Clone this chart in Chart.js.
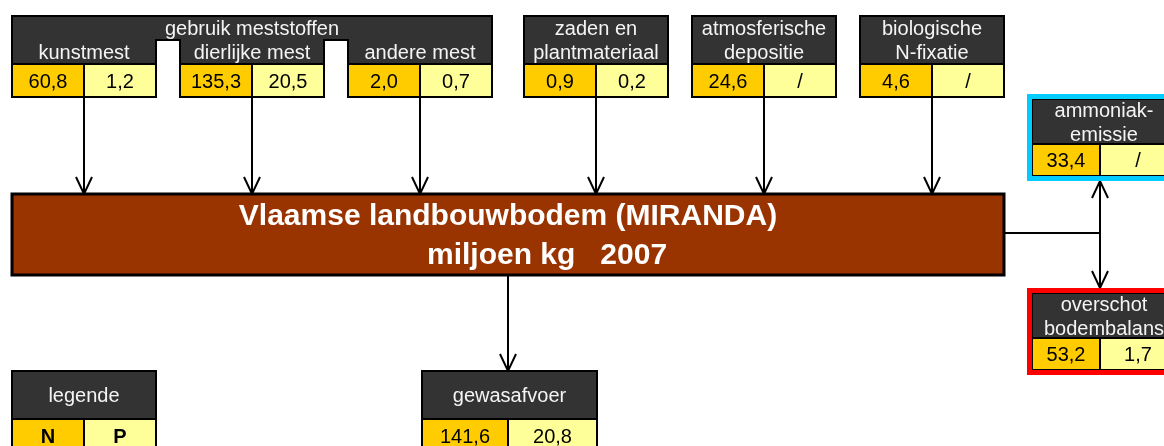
<!DOCTYPE html>
<html>
<head>
<meta charset="utf-8">
<title>Bodembalans Vlaamse landbouw 2007</title>
<script src="https://cdn.jsdelivr.net/npm/chart.js@4.4.1/dist/chart.umd.min.js"></script>
<style>
  html, body { margin: 0; padding: 0; background: #fff; }
  canvas { display: block; }
</style>
</head>
<body>
<canvas id="balans" width="1164" height="446"></canvas>
<script>
  // N and P flows, miljoen kg, 2007 (null = "/")
  const posten = ["kunstmest", "dierlijke mest", "andere mest", "zaden en\nplantmateriaal",
    "atmosferische\ndepositie", "biologische\nN-fixatie", "ammoniak-\nemissie",
    "overschot\nbodembalans", "gewasafvoer"];
  const stikstof = [60.8, 135.3, 2.0, 0.9, 24.6, 4.6, 33.4, 53.2, 141.6];
  const fosfor = [1.2, 20.5, 0.7, 0.2, null, null, null, 1.7, 20.8];
  const groepTitel = "gebruik meststoffen";
  const bodemTitel = ["Vlaamse landbouwbodem (MIRANDA)", "miljoen kg   2007"];
  const legende = ["legende", "N", "P"];

  // layout (in axis units = canvas pixels)
  const BOXES = [
    { x0: 12, x1: 156, head: 40, row: 64, bottom: 97, split: 84, grouped: true },
    { x0: 180, x1: 324, head: 40, row: 64, bottom: 97, split: 252, grouped: true },
    { x0: 348, x1: 492, head: 40, row: 64, bottom: 97, split: 420, grouped: true },
    { x0: 524, x1: 668, head: 16, row: 64, bottom: 97, split: 596 },
    { x0: 692, x1: 836, head: 16, row: 64, bottom: 97, split: 764 },
    { x0: 860, x1: 1004, head: 16, row: 64, bottom: 97, split: 932 },
    { x0: 1032, x1: 1176, head: 99, row: 144, bottom: 176, split: 1100, frame: "#00ccff" },
    { x0: 1032, x1: 1176, head: 293, row: 338, bottom: 370, split: 1100, frame: "#ff0000" },
    { x0: 422, x1: 597, head: 371, row: 419, bottom: 452, split: 508 }
  ];
  const GROUP = { x0: 12, x1: 492, top: 16, sub: 40, row: 64 };
  const SOIL = { x0: 12, x1: 1004, top: 194, bottom: 275, line1: 225, line2: 264, line2x: 427 };
  const LEGEND = { x0: 12, x1: 156, head: 371, row: 419, bottom: 452, split: 84 };
  const BRANCH = { x: 1100, y: 233 };

  const DARK = "#333333";
  const N_FILL = "#ffcc00";
  const P_FILL = "#ffff99";
  const SOIL_FILL = "#993300";
  const FONT = "'Liberation Sans', Arial, sans-serif";

  const fmt = v => v === null ? "/" : v.toFixed(1).replace(".", ",");

  // connectors
  const links = [];
  for (let i = 0; i < 6; i++) {
    const b = BOXES[i];
    links.push({ pts: [{ x: b.split, y: b.bottom }, { x: b.split, y: SOIL.top }], arrow: true });
  }
  links.push({ pts: [{ x: BOXES[8].split, y: SOIL.bottom }, { x: BOXES[8].split, y: BOXES[8].head }], arrow: true });
  links.push({ pts: [{ x: SOIL.x1, y: BRANCH.y }, { x: BRANCH.x, y: BRANCH.y }], arrow: false });
  links.push({ pts: [{ x: BRANCH.x, y: BRANCH.y }, { x: BRANCH.x, y: BOXES[6].bottom + 5 }], arrow: true });
  links.push({ pts: [{ x: BRANCH.x, y: BRANCH.y }, { x: BRANCH.x, y: BOXES[7].head - 5 }], arrow: true });

  const datasets = links.map(l => ({
    data: l.pts,
    arrow: l.arrow,
    showLine: true,
    borderColor: "#000",
    borderWidth: 2,
    pointRadius: 0,
    fill: false
  }));

  function cellText(ctx, txt, cx, cy, color, bold) {
    ctx.fillStyle = color;
    ctx.font = (bold ? "bold " : "") + "20px " + FONT;
    ctx.textAlign = "center";
    ctx.textBaseline = "alphabetic";
    ctx.fillText(txt, cx, cy + 7);
  }

  function drawBox(ctx, px, py, b, label, n, p, bold, skipHead) {
    const x0 = px(b.x0), x1 = px(b.x1), xs = px(b.split);
    const yh = py(b.head), yr = py(b.row), yb = py(b.bottom);
    ctx.lineWidth = 2;
    ctx.strokeStyle = "#000";
    if (!skipHead) {
      ctx.fillStyle = DARK;
      ctx.fillRect(x0, yh, x1 - x0, yr - yh);
      ctx.strokeRect(x0, yh, x1 - x0, yr - yh);
    }
    const lines = label.split("\n");
    const cx = (x0 + x1) / 2, cy = (yh + yr) / 2;
    const gap = 24;
    lines.forEach((t, i) => {
      cellText(ctx, t, cx, cy + (i - (lines.length - 1) / 2) * gap, "#f4f4f4", false);
    });
    ctx.fillStyle = N_FILL;
    ctx.fillRect(x0, yr, xs - x0, yb - yr);
    ctx.fillStyle = P_FILL;
    ctx.fillRect(xs, yr, x1 - xs, yb - yr);
    ctx.strokeRect(x0, yr, xs - x0, yb - yr);
    ctx.strokeRect(xs, yr, x1 - xs, yb - yr);
    cellText(ctx, n, (x0 + xs) / 2, (yr + yb) / 2, "#000", bold);
    cellText(ctx, p, (xs + x1) / 2, (yr + yb) / 2, "#000", bold);
    if (b.frame) {
      ctx.strokeStyle = b.frame;
      ctx.lineWidth = 5;
      ctx.strokeRect(x0 - 2.5, yh - 2.5, x1 - x0 + 5, yb - yh + 5);
    }
  }

  const flowPlugin = {
    id: "flow",
    afterDatasetsDraw(chart) {
      const { ctx, scales: { x, y } } = chart;
      const px = v => x.getPixelForValue(v);
      const py = v => y.getPixelForValue(v);
      ctx.save();

      // arrow heads
      ctx.strokeStyle = "#000";
      ctx.lineWidth = 2;
      chart.data.datasets.forEach(ds => {
        if (!ds.arrow) return;
        const a = ds.data[ds.data.length - 2], b = ds.data[ds.data.length - 1];
        const ax = px(a.x), ay = py(a.y), bx = px(b.x), by = py(b.y);
        const ang = Math.atan2(by - ay, bx - ax);
        const len = 17, half = 8;
        ctx.beginPath();
        ctx.moveTo(bx - len * Math.cos(ang) + half * Math.sin(ang), by - len * Math.sin(ang) - half * Math.cos(ang));
        ctx.lineTo(bx, by);
        ctx.lineTo(bx - len * Math.cos(ang) - half * Math.sin(ang), by - len * Math.sin(ang) + half * Math.cos(ang));
        ctx.stroke();
      });

      // soil block
      const sx0 = px(SOIL.x0), sx1 = px(SOIL.x1), sy0 = py(SOIL.top), sy1 = py(SOIL.bottom);
      ctx.fillStyle = SOIL_FILL;
      ctx.fillRect(sx0, sy0, sx1 - sx0, sy1 - sy0);
      ctx.lineWidth = 3;
      ctx.strokeStyle = "#000";
      ctx.strokeRect(sx0, sy0, sx1 - sx0, sy1 - sy0);
      ctx.fillStyle = "#fff";
      ctx.font = "bold 30px " + FONT;
      ctx.textBaseline = "alphabetic";
      ctx.textAlign = "center";
      ctx.fillText(bodemTitel[0], (sx0 + sx1) / 2, py(SOIL.line1));
      ctx.textAlign = "left";
      ctx.fillText(bodemTitel[1], px(SOIL.line2x), py(SOIL.line2));

      // fertiliser group header
      const g = GROUP;
      ctx.beginPath();
      ctx.moveTo(px(g.x0), py(g.top));
      ctx.lineTo(px(g.x1), py(g.top));
      ctx.lineTo(px(g.x1), py(g.row));
      ctx.lineTo(px(BOXES[2].x0), py(g.row));
      ctx.lineTo(px(BOXES[2].x0), py(g.sub));
      ctx.lineTo(px(BOXES[1].x1), py(g.sub));
      ctx.lineTo(px(BOXES[1].x1), py(g.row));
      ctx.lineTo(px(BOXES[1].x0), py(g.row));
      ctx.lineTo(px(BOXES[1].x0), py(g.sub));
      ctx.lineTo(px(BOXES[0].x1), py(g.sub));
      ctx.lineTo(px(BOXES[0].x1), py(g.row));
      ctx.lineTo(px(g.x0), py(g.row));
      ctx.closePath();
      ctx.fillStyle = DARK;
      ctx.fill();
      ctx.lineWidth = 2;
      ctx.stroke();
      cellText(ctx, groepTitel, (px(g.x0) + px(g.x1)) / 2, (py(g.top) + py(g.sub)) / 2, "#f4f4f4", false);

      BOXES.forEach((b, i) => drawBox(ctx, px, py, b, posten[i], fmt(stikstof[i]), fmt(fosfor[i]), false, b.grouped));
      drawBox(ctx, px, py, LEGEND, legende[0], legende[1], legende[2], true, false);

      ctx.restore();
    }
  };

  new Chart(document.getElementById("balans"), {
    type: "scatter",
    data: { datasets },
    options: {
      responsive: false,
      animation: false,
      layout: { padding: 0 },
      plugins: { legend: { display: false }, tooltip: { enabled: false }, title: { display: false } },
      scales: {
        x: { type: "linear", min: 0, max: 1164, display: false },
        y: { type: "linear", min: 0, max: 446, reverse: true, display: false }
      }
    },
    plugins: [flowPlugin]
  });
</script>
</body>
</html>
